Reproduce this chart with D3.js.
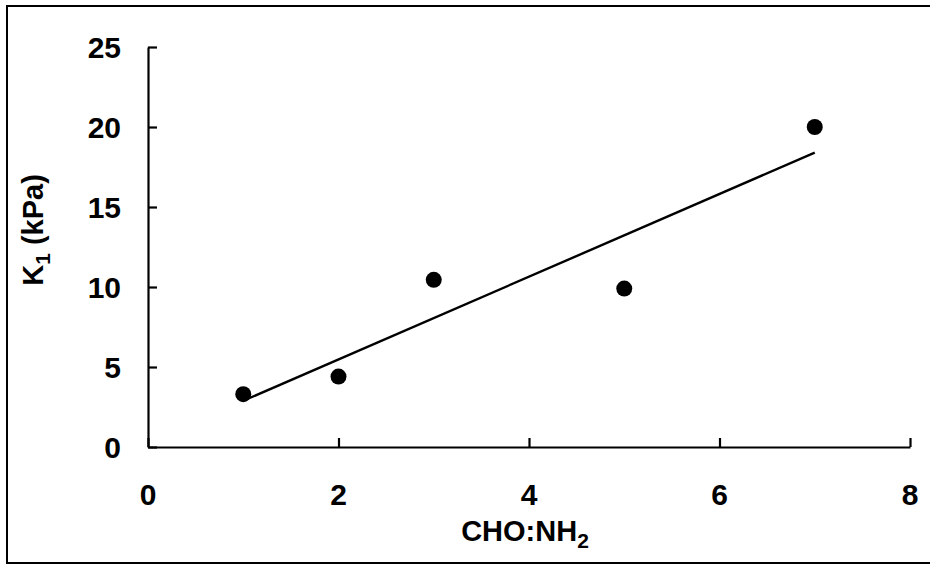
<!DOCTYPE html>
<html>
<head>
<meta charset="utf-8">
<script src="https://cdn.jsdelivr.net/npm/d3@7"></script>
<style>
  body { margin: 0; background: #fff; }
  text { font-family: "Liberation Sans", Arial, sans-serif; font-weight: bold; fill: #000; }
</style>
</head>
<body>
<script>
// data
var ratio = [1, 2, 3, 5, 7];           // CHO:NH2
var k1 = [3.3, 4.4, 10.45, 9.9, 20];   // K1 (kPa)
var xTicks = [0, 2, 4, 6, 8];
var yTicks = [0, 5, 10, 15, 20, 25];

var W = 930, H = 567;
var svg = d3.select("body").append("svg").attr("width", W).attr("height", H);

// outer frame
svg.append("rect")
  .attr("x", 7).attr("y", 6).attr("width", 940).attr("height", 557)
  .attr("fill", "none").attr("stroke", "#000").attr("stroke-width", 2);

var x = d3.scaleLinear().domain([0, 8]).range([148, 910]);
var y = d3.scaleLinear().domain([0, 25]).range([447, 47]);

// axes - ticks point inward
svg.append("g").attr("transform", "translate(0," + y(0) + ")")
  .call(d3.axisTop(x).tickValues(xTicks).tickSize(9).tickSizeOuter(0).tickFormat(""));
svg.append("g").attr("transform", "translate(" + x(0) + ",0)")
  .call(d3.axisRight(y).tickValues(yTicks).tickSize(9).tickSizeOuter(0).tickFormat(""));
svg.selectAll(".domain").attr("stroke", "#000").attr("stroke-width", 2.2);
svg.selectAll(".tick line").attr("stroke", "#000").attr("stroke-width", 2.2);

// tick labels
svg.selectAll(".xl").data(xTicks).enter().append("text")
  .attr("x", d => x(d)).attr("y", 505)
  .attr("text-anchor", "middle").style("font-size", "30px")
  .text(d => d);
svg.selectAll(".yl").data(yTicks).enter().append("text")
  .attr("x", 121).attr("y", d => y(d) + 11)
  .attr("text-anchor", "end").style("font-size", "30px")
  .text(d => d);

// linear trend line (least squares)
var mx = d3.mean(ratio), my = d3.mean(k1);
var sxy = d3.sum(ratio, (v, i) => (v - mx) * (k1[i] - my));
var sxx = d3.sum(ratio, v => (v - mx) * (v - mx));
var slope = sxy / sxx, icpt = my - slope * mx;
var ends = d3.extent(ratio);
svg.append("line")
  .attr("x1", x(ends[0])).attr("y1", y(icpt + slope * ends[0]))
  .attr("x2", x(ends[1])).attr("y2", y(icpt + slope * ends[1]))
  .attr("stroke", "#000").attr("stroke-width", 2.4);

// points
svg.selectAll("circle").data(ratio).enter().append("circle")
  .attr("cx", d => x(d)).attr("cy", (d, i) => y(k1[i]))
  .attr("r", 8).attr("fill", "#000");

// axis titles
var xt = svg.append("text").attr("x", 525).attr("y", 541)
  .attr("text-anchor", "middle").style("font-size", "29px");
xt.append("tspan").text("CHO:NH");
xt.append("tspan").attr("dy", 7).style("font-size", "21px").text("2");

var yt = svg.append("text")
  .attr("transform", "translate(43,230) rotate(-90)")
  .attr("text-anchor", "middle").style("font-size", "29px");
yt.append("tspan").text("K");
yt.append("tspan").attr("dy", 7).style("font-size", "21px").text("1");
yt.append("tspan").attr("dy", -7).text(" (kPa)");
</script>
</body>
</html>
